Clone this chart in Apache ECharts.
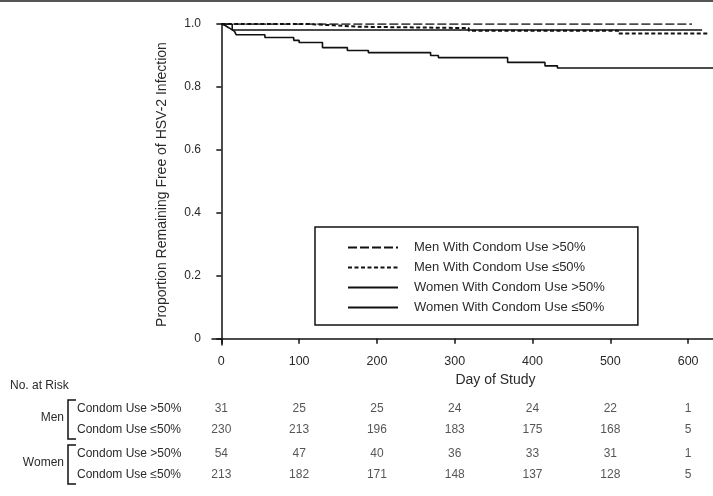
<!DOCTYPE html>
<html>
<head>
<meta charset="utf-8">
<script src="https://cdn.jsdelivr.net/npm/echarts@6/dist/echarts.min.js"></script>
<style>
html,body{margin:0;padding:0;background:#fff;}
#chart{width:713px;height:496px;}
</style>
</head>
<body>
<div id="chart"></div>
<script>
// ---- data ----
const seriesNames = [
  'Men With Condom Use >50%',
  'Men With Condom Use \u226450%',
  'Women With Condom Use >50%',
  'Women With Condom Use \u226450%'
];
// Kaplan-Meier step points [day, proportion]
const menGt50Curve = [[0,1],[605,1]];
const menLe50Curve = [[0,1],[112,0.9957],[145,0.9913],[176,0.987],[318,0.9783],[510,0.9696],[625,0.9696]];
const womenGt50Curve = [[0,1],[14,0.981],[618,0.981]];
const womenLe50Curve = [[0,1],[2,0.9953],[5,0.9906],[8,0.9859],[11,0.9812],[14,0.9765],[17,0.9718],[19,0.966],
  [56,0.957],[93,0.948],[100,0.941],[130,0.925],[162,0.916],[189,0.909],[269,0.900],[279,0.893],
  [368,0.878],[416,0.867],[432,0.860],[632,0.860]];

const xTicks = [0,100,200,300,400,500,600];
const yTicks = [0,0.2,0.4,0.6,0.8,1.0];

// Number at risk table
const riskDays = [0,100,200,300,400,500,600];
const riskRowLabels = ['Condom Use >50%','Condom Use \u226450%'];
const riskGroups = ['Men','Women'];
const riskMenGt50 = [31,25,25,24,24,22,1];
const riskMenLe50 = [230,213,196,183,175,168,5];
const riskWomenGt50 = [54,47,40,36,33,31,1];
const riskWomenLe50 = [213,182,171,148,137,128,5];

// ---- chart ----
const FONT = '"Liberation Sans", Arial, sans-serif';
const TXT = '#2a2a2a';
const chart = echarts.init(document.getElementById('chart'), null, {renderer:'canvas'});

function riskData(vals, row){ return riskDays.map((d,i)=>[d,row,vals[i]]); }

const xMin = -12, xMax = 632;

const hiddenX = (gi)=>({type:'value', gridIndex:gi, min:xMin, max:xMax, show:false});
const tableY = (gi)=>({
  type:'category', gridIndex:gi, inverse:true, data:riskRowLabels,
  axisLine:{show:false}, axisTick:{show:false}, splitLine:{show:false},
  axisLabel:{show:true, align:'left', margin:135, fontSize:12, color:TXT, fontFamily:FONT}
});
const tableSeries = (gi, rows)=>({
  type:'scatter', xAxisIndex:gi, yAxisIndex:gi, symbolSize:0, silent:true,
  data: rows,
  label:{show:true, position:'inside', formatter:p=>p.value[2], fontSize:12, color:TXT, fontFamily:FONT}
});

const lineCommon = {type:'line', step:'end', symbol:'none', silent:true, xAxisIndex:0, yAxisIndex:0,
  itemStyle:{color:'rgba(0,0,0,0)', borderWidth:0}};

const option = {
  animation:false,
  backgroundColor:'#fff',
  textStyle:{fontFamily:FONT},
  grid:[
    {left:212, right:0, top:24, bottom:151},
    {left:212, right:0, top:398, height:42},
    {left:212, right:0, top:443, height:42}
  ],
  legend:{
    orient:'vertical', left:315, top:227,
    data:seriesNames,
    selectedMode:false,
    borderColor:'#111', borderWidth:1.5, borderRadius:0,
    padding:[14,33,11,32],
    itemWidth:50, itemHeight:14, itemGap:7,
    itemStyle:{opacity:0},
    textStyle:{fontSize:13, color:TXT, fontFamily:FONT, padding:[0,0,0,11]}
  },
  xAxis:[
    {type:'value', gridIndex:0, min:xMin, max:xMax,
      name:'Day of Study', nameLocation:'middle', nameGap:28,
      nameTextStyle:{fontSize:14, color:TXT, fontFamily:FONT, padding:[0,0,0,66]},
      axisLine:{show:true, lineStyle:{color:'#111', width:1.5}},
      axisTick:{show:true, length:5, lineStyle:{color:'#111', width:1.5}, customValues:xTicks},
      axisLabel:{fontSize:12.5, color:TXT, margin:10, fontFamily:FONT, customValues:xTicks},
      splitLine:{show:false}
    },
    hiddenX(1), hiddenX(2)
  ],
  yAxis:[
    {type:'value', gridIndex:0, min:-0.02, max:1.0,
      name:'Proportion Remaining Free of HSV-2 Infection', nameLocation:'middle', nameGap:43,
      nameTextStyle:{fontSize:14, color:TXT, fontFamily:FONT},
      axisLine:{show:true, lineStyle:{color:'#111', width:1.5}},
      axisTick:{show:true, length:5, lineStyle:{color:'#111', width:1.5}, customValues:yTicks},
      axisLabel:{fontSize:12, color:TXT, margin:11, fontFamily:FONT, customValues:yTicks,
        formatter:v=> (Math.abs(v)<1e-9 ? '0' : Number(v).toFixed(1))},
      splitLine:{show:false}
    },
    tableY(1), tableY(2)
  ],
  graphic:[
    {type:'rect', left:0, top:0, shape:{width:713, height:2}, style:{fill:'#555'}},
    {type:'text', left:10, top:380, style:{text:'No. at Risk', fontSize:12, fill:TXT, fontFamily:FONT}},
    {type:'text', right:713-64, top:412, style:{text:riskGroups[0], fontSize:12, fill:TXT, fontFamily:FONT, align:'right'}},
    {type:'polyline', shape:{points:[[76,400],[68,400],[68,439],[76,439]]}, style:{stroke:'#111', lineWidth:1.5, fill:null}},
    {type:'text', right:713-64, top:457, style:{text:riskGroups[1], fontSize:12, fill:TXT, fontFamily:FONT, align:'right'}},
    {type:'polyline', shape:{points:[[76,445],[68,445],[68,484],[76,484]]}, style:{stroke:'#111', lineWidth:1.5, fill:null}}
  ],
  series:[
    Object.assign({}, lineCommon, {name:seriesNames[0], data:menGt50Curve, lineStyle:{color:'#111', width:1.6, type:[9,3]}}),
    Object.assign({}, lineCommon, {name:seriesNames[1], data:menLe50Curve, lineStyle:{color:'#111', width:2, type:[4,2.5]}}),
    Object.assign({}, lineCommon, {name:seriesNames[2], data:womenGt50Curve, lineStyle:{color:'#111', width:1.6, type:'solid'}}),
    Object.assign({}, lineCommon, {name:seriesNames[3], data:womenLe50Curve, lineStyle:{color:'#111', width:1.6, type:'solid'}}),
    tableSeries(1, riskData(riskMenGt50, 0).concat(riskData(riskMenLe50, 1))),
    tableSeries(2, riskData(riskWomenGt50, 0).concat(riskData(riskWomenLe50, 1)))
  ]
};
chart.setOption(option);
</script>
</body>
</html>
